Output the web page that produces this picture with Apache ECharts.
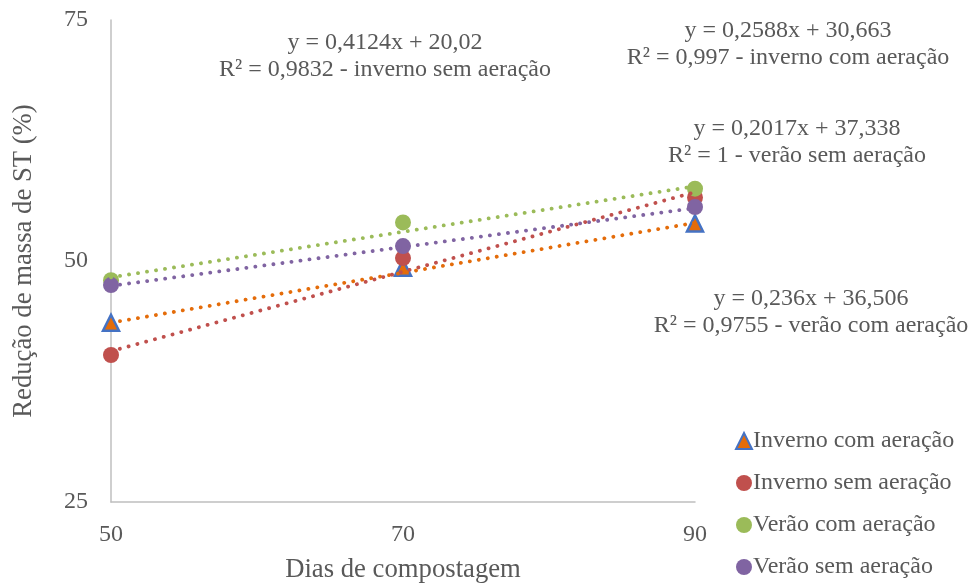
<!DOCTYPE html>
<html>
<head>
<meta charset="utf-8">
<script src="https://cdn.jsdelivr.net/npm/echarts@6/dist/echarts.min.js"></script>
<style>html,body{margin:0;padding:0;background:#fff}#c{width:973px;height:583px}</style>
</head>
<body>
<div id="c"></div>
<script>
// Data
const days = [50, 70, 90];
const invernoComAeracao = [43.6, 49.3, 53.9];
const invernoSemAeracao = [40.25, 50.3, 56.6];
const veraoComAeracao = [48.0, 54.0, 57.5];
const veraoSemAeracao = [47.5, 51.55, 55.6];
// trendline end values at x = 50 and x = 90 (from the displayed equations)
const trendX = [50, 90];
const trendInvernoCom = [43.6, 53.96];
const trendInvernoSem = [40.64, 57.14];
const trendVeraoCom = [48.31, 57.75];
const trendVeraoSem = [47.42, 55.49];
const seriesNames = ['Inverno com aeração', 'Inverno sem aeração', 'Verão com aeração', 'Verão sem aeração'];
const equations = [
  ['y = 0,4124x + 20,02', 'R² = 0,9832 - inverno sem aeração'],
  ['y = 0,2588x + 30,663', 'R² = 0,997 - inverno com aeração'],
  ['y = 0,2017x + 37,338', 'R² = 1 - verão sem aeração'],
  ['y = 0,236x + 36,506', 'R² = 0,9755 - verão com aeração']
];
const yTicks = [25, 50, 75];

const font = 'Liberation Serif';
const txt = '#595959';
const pair = (xs, ys) => xs.map((x, i) => [x, ys[i]]);

const chart = echarts.init(document.getElementById('c'));
const trend = (data, color) => ({
  type: 'line', data: pair(trendX, data), symbol: 'none', silent: true, z: 5,
  lineStyle: { color: color, width: 3.8, type: [0.1, 9], cap: 'round' }
});
const scatter = (name, data, symbol, color, border, size) => ({
  name: name, type: 'scatter', data: pair(days, data), symbol: symbol, symbolSize: size, z: 3,
  itemStyle: { color: color, borderColor: border, borderWidth: border ? 2.5 : 0, opacity: 1 }
});

// centre of each two-line label
const eqPos = [[385, 56], [788, 44], [797, 142], [811, 312]];
const graphics = equations.map((e, i) => ({
  type: 'text', x: eqPos[i][0], y: eqPos[i][1],
  style: { text: e[0] + '\n' + e[1], font: '24px "' + font + '"', fill: txt,
           align: 'center', verticalAlign: 'middle', lineHeight: 27 }
}));

chart.setOption({
  animation: false,
  grid: { left: 111, right: 278, top: 20, bottom: 81, containLabel: false, outerBoundsMode: 'none' },
  xAxis: {
    type: 'value', min: 50, max: 90, interval: 20,
    name: 'Dias de compostagem', nameLocation: 'middle', nameGap: 54,
    nameTextStyle: { fontFamily: font, fontSize: 26.7, color: txt },
    axisLine: { lineStyle: { color: '#BFBFBF', width: 1.5 } },
    axisTick: { show: false }, splitLine: { show: false },
    axisLabel: { fontFamily: font, fontSize: 24, color: txt, margin: 21 }
  },
  yAxis: {
    type: 'value', min: yTicks[0], max: yTicks[2], interval: 25,
    name: 'Redução de massa de ST (%)', nameLocation: 'middle', nameGap: 74,
    nameTextStyle: { fontFamily: font, fontSize: 26.7, color: txt },
    axisLine: { show: true, lineStyle: { color: '#BFBFBF', width: 1.5 } },
    axisTick: { show: false }, splitLine: { show: false },
    axisLabel: { fontFamily: font, fontSize: 24, color: txt, margin: 23 }
  },
  legend: {
    orient: 'vertical', left: 735, top: 429, padding: 0, height: 160,
    itemGap: 18, itemWidth: 16, itemHeight: 16,
    data: [
      { name: seriesNames[0], icon: 'triangle' },
      { name: seriesNames[1], icon: 'circle' },
      { name: seriesNames[2], icon: 'circle' },
      { name: seriesNames[3], icon: 'circle' }
    ],
    textStyle: { fontFamily: font, fontSize: 24, color: txt, lineHeight: 24, padding: [0, 0, 0, -4] },
    selectedMode: false
  },
  graphic: graphics,
  series: [
    scatter(seriesNames[0], invernoComAeracao, 'triangle', '#E46C0A', '#4472C4', 16),
    scatter(seriesNames[1], invernoSemAeracao, 'circle', '#C0504D', null, 16),
    scatter(seriesNames[2], veraoComAeracao, 'circle', '#9BBB59', null, 16),
    scatter(seriesNames[3], veraoSemAeracao, 'circle', '#8064A2', null, 16),
    trend(trendInvernoCom, '#E46C0A'),
    trend(trendInvernoSem, '#C0504D'),
    trend(trendVeraoCom, '#9BBB59'),
    trend(trendVeraoSem, '#8064A2')
  ]
});
</script>
</body>
</html>
